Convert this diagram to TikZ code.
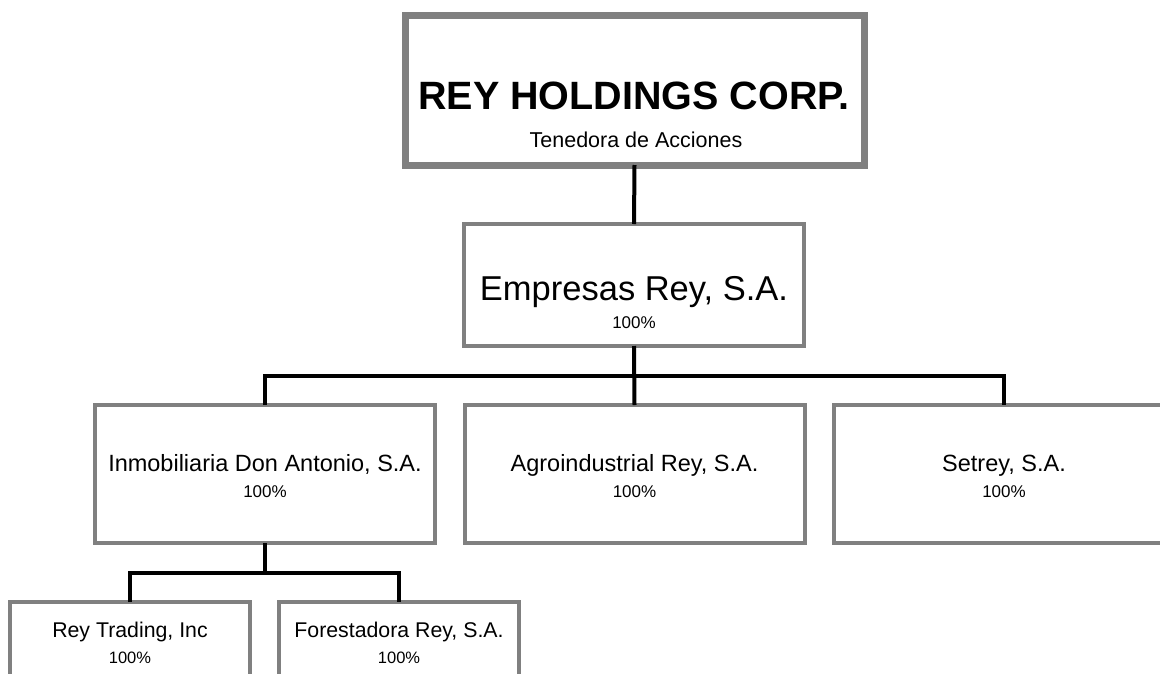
\documentclass[tikz,border=0pt]{standalone}
\usepackage{fontspec}
\setmainfont{Liberation Sans}
\definecolor{boxgray}{RGB}{128,128,128}
\tikzset{
  orgbox/.style={draw=boxgray, fill=white, rectangle, inner sep=0pt, outer sep=0pt, line width=4pt},
  conn/.style={draw=black, line width=4pt},
  lbl/.style={anchor=base, inner sep=0pt, text=black},
}
\begin{document}
\begin{tikzpicture}[x=1pt, y=-1pt]
\useasboundingbox (0,0) rectangle (1160,673);
\clip (0,0) rectangle (1160,673);
% boxes
\node[orgbox, line width=7pt, minimum width=459pt, minimum height=150pt] (holding) at (634.5,90) {};
\node[orgbox, minimum width=340pt, minimum height=122pt] (empresas) at (634,285) {};
\node[orgbox, minimum width=340pt, minimum height=138pt] (inmob) at (265,474) {};
\node[orgbox, minimum width=340pt, minimum height=138pt] (agro) at (634.5,474) {};
\node[orgbox, minimum width=340pt, minimum height=138pt] (setrey) at (1004,474) {};
\node[orgbox, minimum width=240pt, minimum height=140pt] (trading) at (130,672) {};
\node[orgbox, minimum width=240pt, minimum height=140pt] (forest) at (399,672) {};
% connectors
\coordinate (bus) at (634.5,376);
\coordinate (sub) at (265,573);
\draw[conn] (holding.south) -- (empresas.north);
\draw[conn] (inmob.north) |- (bus) -| (setrey.north);
\draw[conn] (empresas.south) -- (agro.north);
\draw[conn] (trading.north) |- (sub) -| (forest.north);
\draw[conn] (inmob.south) -- (sub);
% labels
\node[lbl, font=\fontsize{39.5}{46}\selectfont\bfseries] (t1) at (634,109) {REY HOLDINGS CORP.};
\node[lbl, font=\fontsize{21.5}{25}\selectfont] (t2) at (636,147) {Tenedora de Acciones};
\node[lbl, font=\fontsize{34.5}{40}\selectfont] (e1) at (634,300) {Empresas Rey, S.A.};
\node[lbl, font=\fontsize{17}{20}\selectfont] (e2) at (634,328) {100\%};
\node[lbl, font=\fontsize{23.5}{28}\selectfont] (i1) at (265,471) {Inmobiliaria Don Antonio, S.A.};
\node[lbl, font=\fontsize{17}{20}\selectfont] (i2) at (265,497) {100\%};
\node[lbl, font=\fontsize{23.5}{28}\selectfont] (a1) at (634.5,471) {Agroindustrial Rey, S.A.};
\node[lbl, font=\fontsize{17}{20}\selectfont] (a2) at (634.5,497) {100\%};
\node[lbl, font=\fontsize{23.5}{28}\selectfont] (s1) at (1004,471) {Setrey, S.A.};
\node[lbl, font=\fontsize{17}{20}\selectfont] (s2) at (1004,497) {100\%};
\node[lbl, font=\fontsize{21.3}{25}\selectfont] (r1) at (130,637) {Rey Trading, Inc};
\node[lbl, font=\fontsize{16.5}{19}\selectfont] (r2) at (130,663) {100\%};
\node[lbl, font=\fontsize{21.3}{25}\selectfont] (f1) at (399,637) {Forestadora Rey, S.A.};
\node[lbl, font=\fontsize{16.5}{19}\selectfont] (f2) at (399,663) {100\%};
\end{tikzpicture}
\end{document}
